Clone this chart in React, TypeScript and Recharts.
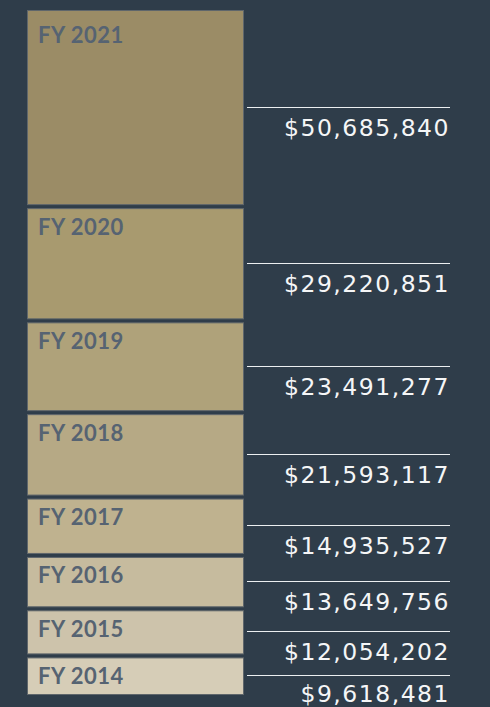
import React from 'react';
import { BarChart, Bar, XAxis, YAxis, LabelList } from 'recharts';

const years = ['FY 2014', 'FY 2015', 'FY 2016', 'FY 2017', 'FY 2018', 'FY 2019', 'FY 2020', 'FY 2021'];
const amounts = [9618481, 12054202, 13649756, 14935527, 21593117, 23491277, 29220851, 50685840];
const colors = ['#d6cdb7', '#cdc3ab', '#c6bb9e', '#bfb28f', '#b6a985', '#afa27a', '#a89a6f', '#9b8c66'];

const BG = '#2f3d4a';
const GAP = 3;
const keys = years.map((_, i) => `s${i}`);
const row: Record<string, number | string> = { name: 'total' };
keys.forEach((k, i) => {
  row[k] = amounts[i];
});
const data = [row];
const total = amounts.reduce((a, b) => a + b, 0);

const fmt = (v: number) => '$' + v.toLocaleString('en-US');

const Segment = (props: any) => {
  const { x, y, width, height, fill, bottom } = props;
  const h = Math.max(0, height - (bottom ? 0 : GAP));
  return (
    <rect
      x={x + 0.5}
      y={y + 0.5}
      width={width - 1}
      height={Math.max(0, h - 1)}
      fill={fill}
      stroke="#5f666b"
      strokeWidth={1}
    />
  );
};

const makeValueLabel = (i: number) => (props: any) => {
  const { x, y, width, height } = props;
  const h = height - (i === 0 ? 0 : GAP);
  const mid = Math.round(y + h / 2) - 0.5;
  const x1 = x + width + 3;
  const x2 = x + width + 206;
  return (
    <g>
      <line x1={x1} y1={mid} x2={x2} y2={mid} stroke="#eceff1" strokeWidth={1} />
      <text
        x={x2}
        y={mid + (i === 0 ? 26 : 28)}
        textAnchor="end"
        fill="#f5f6f7"
        fontFamily="'DejaVu Sans', Verdana, sans-serif"
        fontSize={23.5}
        letterSpacing={1.5}
      >
        {fmt(amounts[i])}
      </text>
    </g>
  );
};

const makeYearLabel = (i: number) => (props: any) => {
  const { x, y } = props;
  return (
    <text
      x={x + 11}
      y={y + (i === years.length - 1 ? 32.5 : 26.5)}
      fill="#566372"
      fontFamily="Lato, 'Noto Sans', sans-serif"
      fontWeight={700}
      fontSize={22}
      letterSpacing={0.5}
    >
      {years[i]}
    </text>
  );
};

export default function App() {
  return (
    <div
      style={{
        position: 'absolute',
        left: 0,
        top: 0,
        width: 490,
        height: 707,
        background: BG,
        overflow: 'hidden',
      }}
    >
      <BarChart
        width={490}
        height={707}
        data={data}
        margin={{ top: 10, right: 246, left: 27, bottom: 12 }}
        barCategoryGap={0}
      >
        <XAxis dataKey="name" hide />
        <YAxis hide domain={[0, total]} />
        {keys.map((k, i) => (
          <Bar
            key={k}
            dataKey={k}
            stackId="a"
            fill={colors[i]}
            shape={(p: any) => <Segment {...p} bottom={i === 0} />}
            isAnimationActive={false}
          >
            <LabelList dataKey={k} content={makeYearLabel(i)} />
            <LabelList dataKey={k} content={makeValueLabel(i)} />
          </Bar>
        ))}
      </BarChart>
    </div>
  );
}
